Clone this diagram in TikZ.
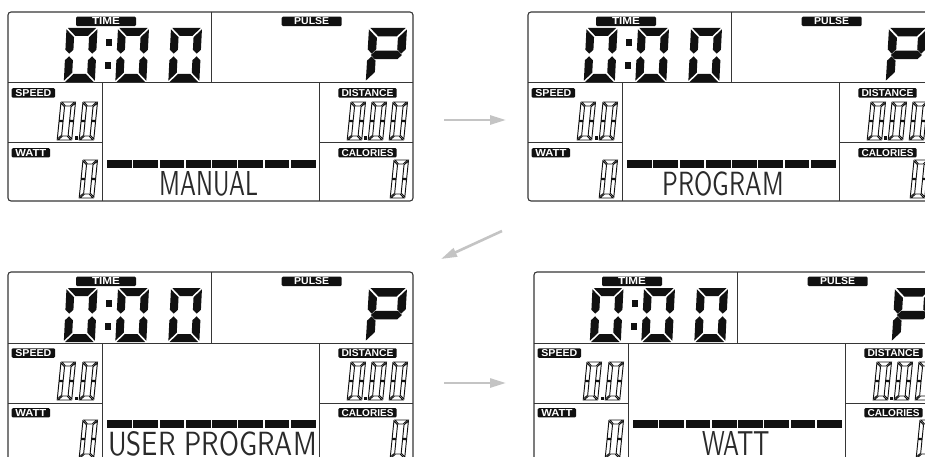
\documentclass[tikz,border=0pt]{standalone}
\usepackage{fontspec}
\usepackage{graphicx}
\newfontfamily\lblfont{Liberation Sans}
\usetikzlibrary{arrows.meta}
\definecolor{lcdline}{HTML}{363636}
\definecolor{lcdink}{HTML}{111111}
\definecolor{modeink}{HTML}{2A2A2A}
\definecolor{arrowgray}{HTML}{C4C4C4}
\tikzset{
  frame/.style={draw=lcdline,line width=1.1pt,rounded corners=3pt},
  divider/.style={draw=lcdline,line width=1pt},
  lbl/.style={fill=lcdink,rounded corners=1.2pt,inner sep=0pt,text=white},
  segfill/.style={fill=lcdink,draw=none},
  segline/.style={draw=lcdink,line width=0.95pt,fill=none,line join=miter},
  modetext/.style={inner sep=0pt,anchor=north west,text=modeink},
  flow/.style={draw=arrowgray,line width=2.6pt,-{Triangle[length=16pt,width=9pt]}},
}
% seven segment pieces (local coords, y downwards)
\def\segA{(\dG,0) -- ({\dW-\dG},0) -- ({\dW-\dG-\dT},\dT) -- ({\dG+\dT},\dT) -- cycle}
\def\segB{(\dW,\dG) -- (\dW,{\dM-\dG-\dT/2}) -- ({\dW-\dT/2},{\dM-\dG}) -- ({\dW-\dT},{\dM-\dG-\dT/2}) -- ({\dW-\dT},{\dG+\dT}) -- cycle}
\def\segC{(\dW,{\dH-\dG}) -- (\dW,{\dM+\dG+\dT/2}) -- ({\dW-\dT/2},{\dM+\dG}) -- ({\dW-\dT},{\dM+\dG+\dT/2}) -- ({\dW-\dT},{\dH-\dG-\dT}) -- cycle}
\def\segD{(\dG,\dH) -- ({\dW-\dG},\dH) -- ({\dW-\dG-\dT},{\dH-\dT}) -- ({\dG+\dT},{\dH-\dT}) -- cycle}
\def\segE{(0,{\dH-\dG}) -- (0,{\dM+\dG+\dT/2}) -- ({\dT/2},{\dM+\dG}) -- (\dT,{\dM+\dG+\dT/2}) -- (\dT,{\dH-\dG-\dT}) -- cycle}
\def\segF{(0,\dG) -- (0,{\dM-\dG-\dT/2}) -- ({\dT/2},{\dM-\dG}) -- (\dT,{\dM-\dG-\dT/2}) -- (\dT,{\dG+\dT}) -- cycle}
\def\segG{({2.5*\dG},\dM) -- ({2.5*\dG+\dT/2},{\dM-\dT/2}) -- ({\dW-2.5*\dG-\dT/2},{\dM-\dT/2}) -- ({\dW-2.5*\dG},\dM) -- ({\dW-2.5*\dG-\dT/2},{\dM+\dT/2}) -- ({2.5*\dG+\dT/2},{\dM+\dT/2}) -- cycle}
% verticals with flat middle ends (for the outlined small digits)
\def\segP{(0,\dG) -- (0,{\dM-0.7}) -- (\dT,{\dM-0.7}) -- (\dT,{\dG+\dT}) -- cycle}
\def\segQ{(0,{\dH-\dG}) -- (0,{\dM+0.7}) -- (\dT,{\dM+0.7}) -- (\dT,{\dH-\dG-\dT}) -- cycle}
\def\segR{(\dW,\dG) -- (\dW,{\dM-0.7}) -- ({\dW-\dT},{\dM-0.7}) -- ({\dW-\dT},{\dG+\dT}) -- cycle}
\def\segS{(\dW,{\dH-\dG}) -- (\dW,{\dM+0.7}) -- ({\dW-\dT},{\dM+0.7}) -- ({\dW-\dT},{\dH-\dG-\dT}) -- cycle}
\newcommand\lcdSeg[2]{\path[#2] #1;}
% #1 style, #2 x, #3 y, #4 W, #5 H, #6 thickness, #7 slant, #8 segments, #9 gap
\newcommand\lcdDigit[9]{%
  \begin{scope}[shift={(#2,#3)},xslant=#7]
    \def\dW{#4}\def\dH{#5}\def\dT{#6}\def\dG{#9}%
    \pgfmathsetmacro\dM{#5/2}%
    \foreach \s in {#8}{\expandafter\lcdSeg\csname seg\s\endcsname{#1}}%
  \end{scope}}
\newcommand\bigO[1]{\lcdDigit{segfill}{#1}{16}{31}{54}{8}{0.05}{A,B,C,D,E,F}{1.3}}
\newcommand\smallO[2]{\lcdDigit{segline}{#1}{#2}{14.5}{38}{4}{0.1}{A,R,S,D,Q,P}{0.9}}
\newcommand\lbltext[2]{\resizebox{#1pt}{7pt}{\lblfont\bfseries #2}}
% #1 name, #2 x, #3 y, #4 mode text, #5 mode x, #6 mode width
\newcommand\lcdpanel[6]{%
\begin{scope}[shift={(#2,#3)}]
  \draw[divider] (0,71) -- (405,71);
  \draw[divider] (203,0) -- (203,71);
  \draw[divider] (94,71) -- (94,189);
  \draw[divider] (311,71) -- (311,189);
  \draw[divider] (0,131) -- (94,131);
  \draw[divider] (311,131) -- (405,131);
  \draw[frame] (0,0) rectangle (405,189);
  \node[lbl,minimum width=60pt,minimum height=9.5pt] (#1-time) at (98,9.4) {\lbltext{28}{TIME}};
  \node[lbl,minimum width=60pt,minimum height=9.5pt] (#1-pulse) at (303.7,9.4) {\lbltext{35}{PULSE}};
  \node[lbl,minimum width=43.3pt,minimum height=9.5pt] (#1-speed) at (25.35,81) {\lbltext{36}{SPEED}};
  \node[lbl,minimum width=38.3pt,minimum height=9.3pt] (#1-watt) at (22.85,140.8) {\lbltext{31}{WATT}};
  \node[lbl,minimum width=58.4pt,minimum height=9.5pt] (#1-distance) at (359.5,81) {\lbltext{52}{DISTANCE}};
  \node[lbl,minimum width=58.4pt,minimum height=9.3pt] (#1-calories) at (359.5,140.8) {\lbltext{52}{CALORIES}};
  % time 0:00
  \bigO{58.5}
  \bigO{110}
  \bigO{163}
  \fill[lcdink] (97.5,27.5) rectangle (103.5,34.5);
  \fill[lcdink] (96.5,50.5) rectangle (102.5,57.5);
  % pulse P
  \lcdDigit{segfill}{361}{16}{38}{54}{8.5}{0.06}{A,B,E,F,G}{1.4}
  % speed 0.0
  \smallO{53}{90}
  \smallO{75}{90}
  \fill[lcdink] (66.5,124.5) rectangle (69.5,128);
  % watt 0
  \smallO{75}{148}
  % distance 0.00
  \smallO{343}{90}
  \smallO{364}{90}
  \smallO{385}{90}
  \fill[lcdink] (355.5,124.5) rectangle (358.5,128);
  % calories 0
  \smallO{386}{148}
  % bar graph
  \foreach \i in {0,...,7} \fill[lcdink] ({99+\i*26.25},148) rectangle ++(24.75,8);
  % mode text
  \node[modetext] (#1-mode) at (#5,158.8) {\resizebox{#6pt}{24pt}{\sffamily #4}};
\end{scope}}

\begin{document}
\begin{tikzpicture}[x=1pt,y=-1pt]
\useasboundingbox (0,0) rectangle (925,457);
\fill[white] (0,0) rectangle (925,457);
\clip (0,0) rectangle (925,457);
\lcdpanel{p1}{8}{12}{MANUAL}{151.3}{99}
\lcdpanel{p2}{528}{12}{PROGRAM}{134.5}{121}
\lcdpanel{p3}{8}{272}{USER PROGRAM}{100}{208.5}
\lcdpanel{p4}{534}{272}{WATT}{168.7}{67.3}
\coordinate (a1s) at (444,120);
\coordinate (a1e) at (506,120);
\coordinate (a2s) at (502,231);
\coordinate (a2e) at (441,259);
\coordinate (a3s) at (444,383);
\coordinate (a3e) at (506,383);
\draw[flow] (a1s) -- (a1e);
\draw[flow] (a2s) -- (a2e);
\draw[flow] (a3s) -- (a3e);
\end{tikzpicture}
\end{document}
